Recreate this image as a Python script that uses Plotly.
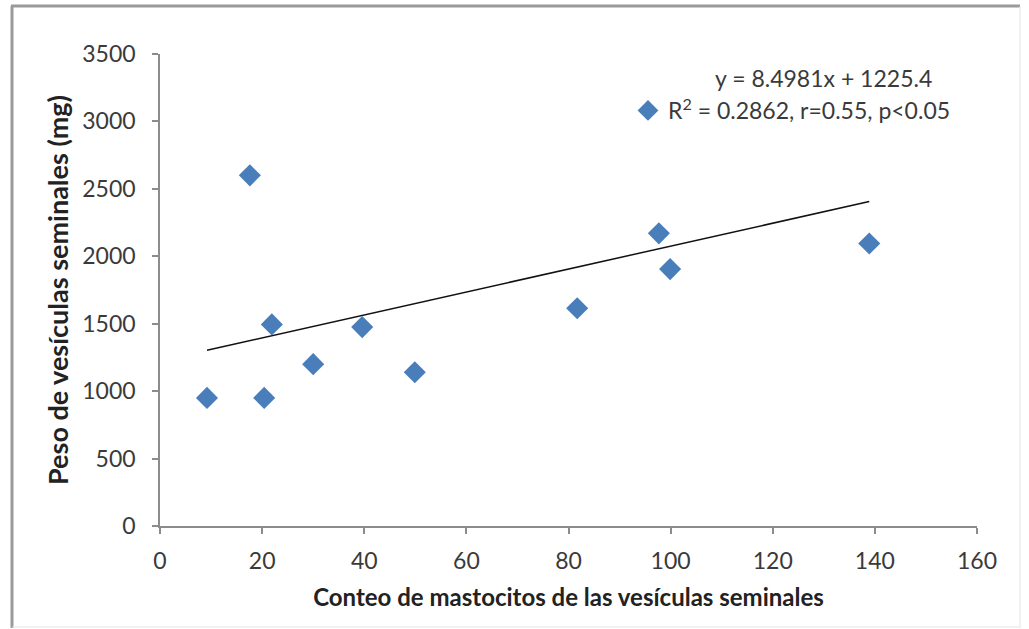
import plotly.graph_objects as go

# Mast cell counts and seminal vesicle weights
conteo = [9.2, 17.6, 20.4, 21.9, 30.0, 39.6, 49.9, 81.7, 97.7, 99.9, 138.9]
peso_mg = [950, 2600, 950, 1495, 1200, 1475, 1140, 1615, 2170, 1905, 2095]

# Linear trendline reported on the chart
pendiente = 8.4981
intercepto = 1225.4
ecuacion = "y = 8.4981x + 1225.4"
estadisticos = "R<sup>2</sup> = 0.2862, r=0.55, p<0.05"

x_ticks = [0, 20, 40, 60, 80, 100, 120, 140, 160]
y_ticks = [0, 500, 1000, 1500, 2000, 2500, 3000, 3500]

FONT = "Lato, 'Open Sans', sans-serif"
AXIS_GRAY = "#8c8c8c"
TEXT = "#3a3a3a"

x_line = [min(conteo), max(conteo)]
y_line = [pendiente * v + intercepto for v in x_line]

fig = go.Figure()
fig.add_trace(go.Scatter(
    x=x_line, y=y_line, mode="lines",
    line=dict(color="#111111", width=1.5),
    showlegend=False, hoverinfo="skip",
))
fig.add_trace(go.Scatter(
    x=conteo, y=peso_mg, mode="markers",
    marker=dict(symbol="diamond", size=17, color="#4a7ebb",
                line=dict(width=0)),
    name=estadisticos, showlegend=True,
))

W, H = 1029, 629
L, R, T, B = 160, 52, 54, 103
pw, ph = W - L - R, H - T - B


def px(xp):
    return (xp - L) / pw


def py(yp):
    return (H - B - yp) / ph


# outer chart frame: heavier left/top edges, light right/bottom edges
shapes = [
    dict(type="line", xref="paper", yref="paper", x0=px(12), x1=px(12),
         y0=py(6), y1=py(628), line=dict(color="#9a9a9a", width=3)),
    dict(type="line", xref="paper", yref="paper", x0=px(11), x1=px(1020),
         y0=py(6), y1=py(6), line=dict(color="#9a9a9a", width=3)),
    dict(type="line", xref="paper", yref="paper", x0=px(1020), x1=px(1020),
         y0=py(6), y1=py(628), line=dict(color="#e4e4e4", width=1)),
    dict(type="line", xref="paper", yref="paper", x0=px(12), x1=px(1020),
         y0=py(627), y1=py(627), line=dict(color="#e4e4e4", width=1)),
]

fig.update_layout(
    width=W, height=H,
    margin=dict(l=L, r=R, t=T, b=B, autoexpand=False),
    paper_bgcolor="white", plot_bgcolor="white",
    font=dict(family=FONT, size=23, color=TEXT),
    shapes=shapes,
    legend=dict(x=px(628), y=py(89), xanchor="left", yanchor="top",
                bgcolor="rgba(0,0,0,0)", font=dict(size=23, color=TEXT),
                itemwidth=30, tracegroupgap=0),
    annotations=[dict(text=ecuacion, xref="paper", yref="paper",
                      x=px(823), y=py(78), xanchor="center", yanchor="middle",
                      showarrow=False, font=dict(size=23, color=TEXT))],
    xaxis=dict(
        range=[0, 160], tickvals=x_ticks, ticktext=[str(v) for v in x_ticks],
        showgrid=False, zeroline=False, showline=True, linecolor=AXIS_GRAY,
        linewidth=1.5, ticks="outside", ticklen=6, tickcolor=AXIS_GRAY,
        tickwidth=1.5, ticklabelstandoff=8,
        title=dict(text="<b>Conteo de mastocitos de las vesículas seminales</b>",
                   font=dict(size=24, color="#222222"), standoff=16),
    ),
    yaxis=dict(
        range=[0, 3500], tickvals=y_ticks, ticktext=[str(v) for v in y_ticks],
        showgrid=False, zeroline=False, showline=True, linecolor=AXIS_GRAY,
        linewidth=1.5, ticks="outside", ticklen=6, tickcolor=AXIS_GRAY,
        tickwidth=1.5, ticklabelstandoff=12,
        title=dict(text="<b>Peso de vesículas seminales (mg)</b>",
                   font=dict(size=27, color="#222222"), standoff=6),
    ),
)

fig.write_html("out.html")
